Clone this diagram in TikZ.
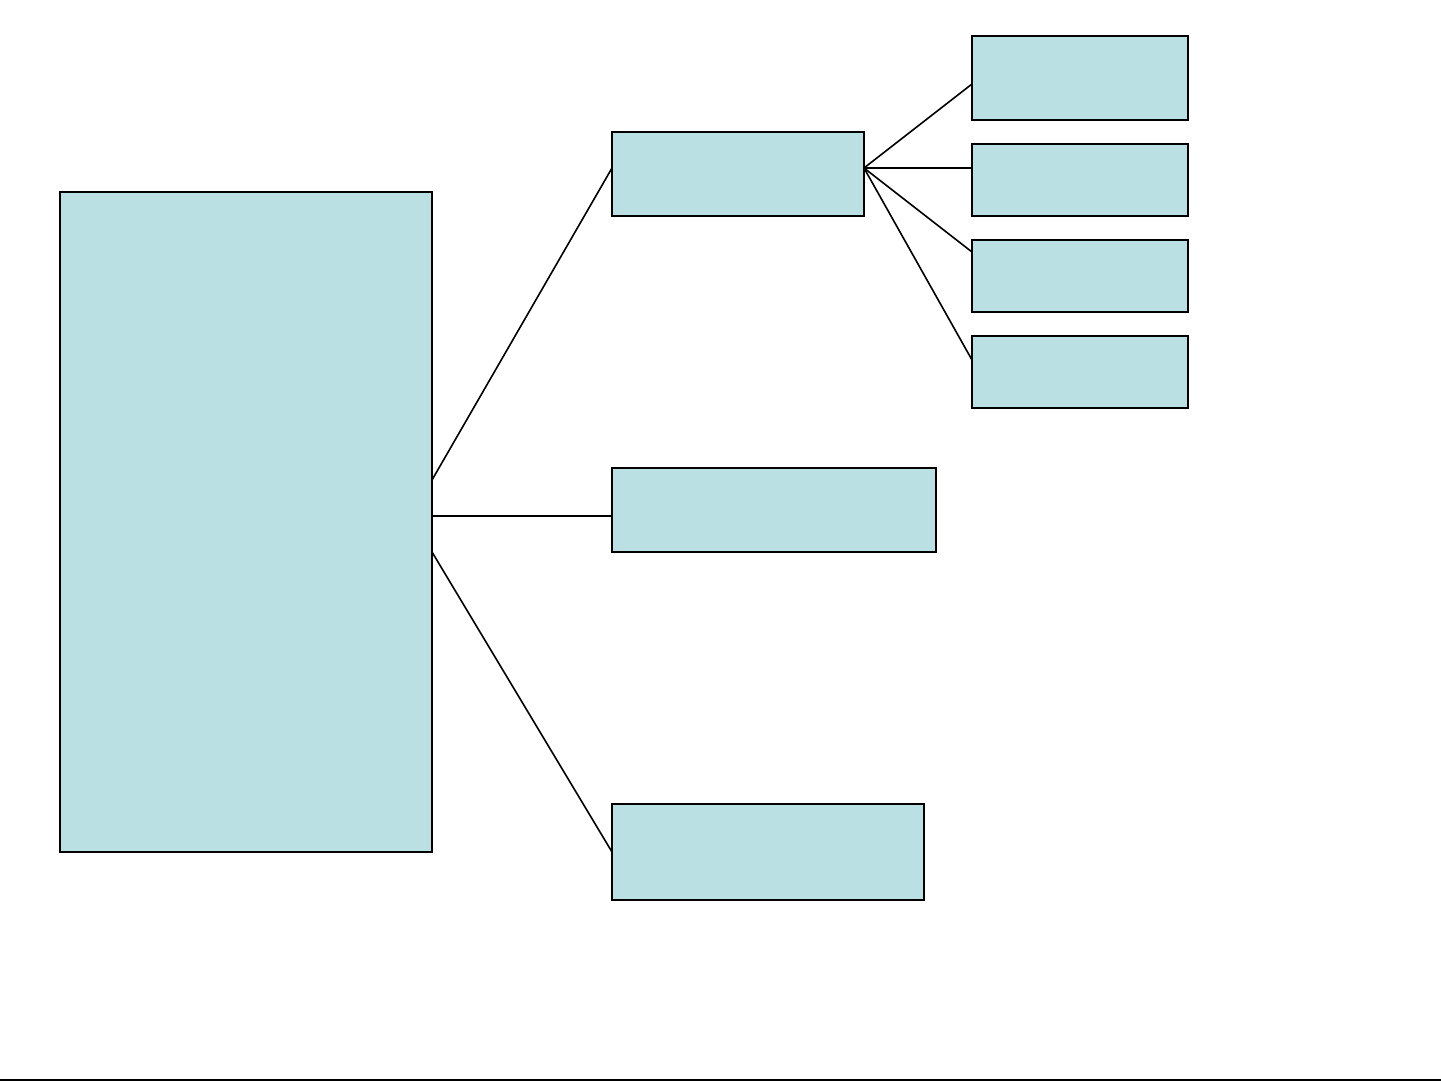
\documentclass[tikz,border=0pt]{standalone}
\usetikzlibrary{calc}
\definecolor{boxfill}{RGB}{187,224,227}
\tikzset{
  box/.style={draw=black, fill=boxfill, line width=2pt, rectangle, anchor=north west, inner sep=0pt, outer sep=0pt},
  link/.style={draw=black, line width=1.6pt}
}
\begin{document}
\begin{tikzpicture}[x=1pt,y=-1pt]
\useasboundingbox (0,0) rectangle (1441,1081);
\node[box, minimum width=372pt, minimum height=660pt] (m) at (60,192) {};
\node[box, minimum width=252pt, minimum height=84pt] (b1) at (612,132) {};
\node[box, minimum width=324pt, minimum height=84pt] (b2) at (612,468) {};
\node[box, minimum width=312pt, minimum height=96pt] (b3) at (612,804) {};
\node[box, minimum width=216pt, minimum height=84pt] (c1) at (972,36) {};
\node[box, minimum width=216pt, minimum height=72pt] (c2) at (972,144) {};
\node[box, minimum width=216pt, minimum height=72pt] (c3) at (972,240) {};
\node[box, minimum width=216pt, minimum height=72pt] (c4) at (972,336) {};
\coordinate (mout) at ($(m.north east)+(0,324)$);
\coordinate (b1out) at ($(b1.north east)+(0,36)$);
\draw[link] ($(mout)+(0,-36)$) -- ($(b1.north west)+(0,36)$);
\draw[link] (mout) -- ($(b2.north west)+(0,48)$);
\draw[link] ($(mout)+(0,36)$) -- (b3.west);
\draw[link] (b1out) -- ($(c1.north west)+(0,48)$);
\draw[link] (b1out) -- ($(c2.north west)+(0,24)$);
\draw[link] (b1out) -- ($(c3.north west)+(0,12)$);
\draw[link] (b1out) -- ($(c4.north west)+(0,24)$);
\draw[line width=2pt] (0,1079.5) -- (1441,1079.5);
\end{tikzpicture}
\end{document}
